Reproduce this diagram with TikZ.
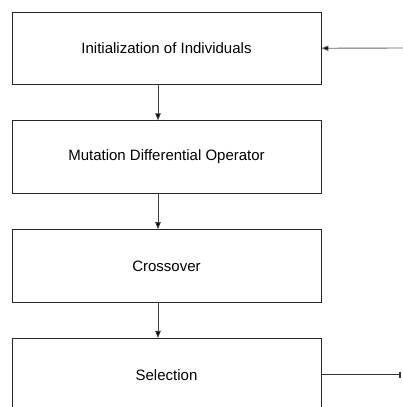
\documentclass[tikz,border=0pt]{standalone}
\usepackage{fontspec}
\setmainfont{Liberation Sans}
\usetikzlibrary{positioning,arrows.meta}

\begin{document}
\begin{tikzpicture}[
  x=1pt, y=1pt,
  node distance=35.4pt,
  stage/.style={rectangle, draw=black!85, line width=0.9pt, minimum width=309pt, minimum height=72.5pt, font=\fontsize{15}{18}\selectfont},
  flow/.style={draw=black!75, line width=0.9pt, -{Triangle[length=7pt,width=5.5pt,fill=black]}}
]
  \useasboundingbox (0,0) rectangle (403,-407);

  \node (init) [stage] at (166.5,-48.25) { Initialization of Individuals };
  \node (mut) [stage, below=of init] { Mutation Differential Operator };
  \node (cross) [stage, below=of mut] { Crossover };
  \node (sel) [stage, below=of cross] { Selection };

  \coordinate (loopin) at (403,-48);
  \coordinate (loopout) at (sel.east -| 401,0);

  \draw[flow] ([xshift=-8.5pt]init.south) -- ([xshift=-8.5pt]mut.north);
  \draw[flow] ([xshift=-8.5pt]mut.south) -- ([xshift=-8.5pt]cross.north);
  \draw[flow] ([xshift=-8.5pt]cross.south) -- ([xshift=-8.5pt]sel.north);

  \draw[flow, draw=black!60] (loopin) -- (init.east);
  \draw[draw=black!80, line width=0.9pt, -{Bar[width=6pt,line width=2pt]}] (sel.east) -- (loopout);
\end{tikzpicture}
\end{document}
